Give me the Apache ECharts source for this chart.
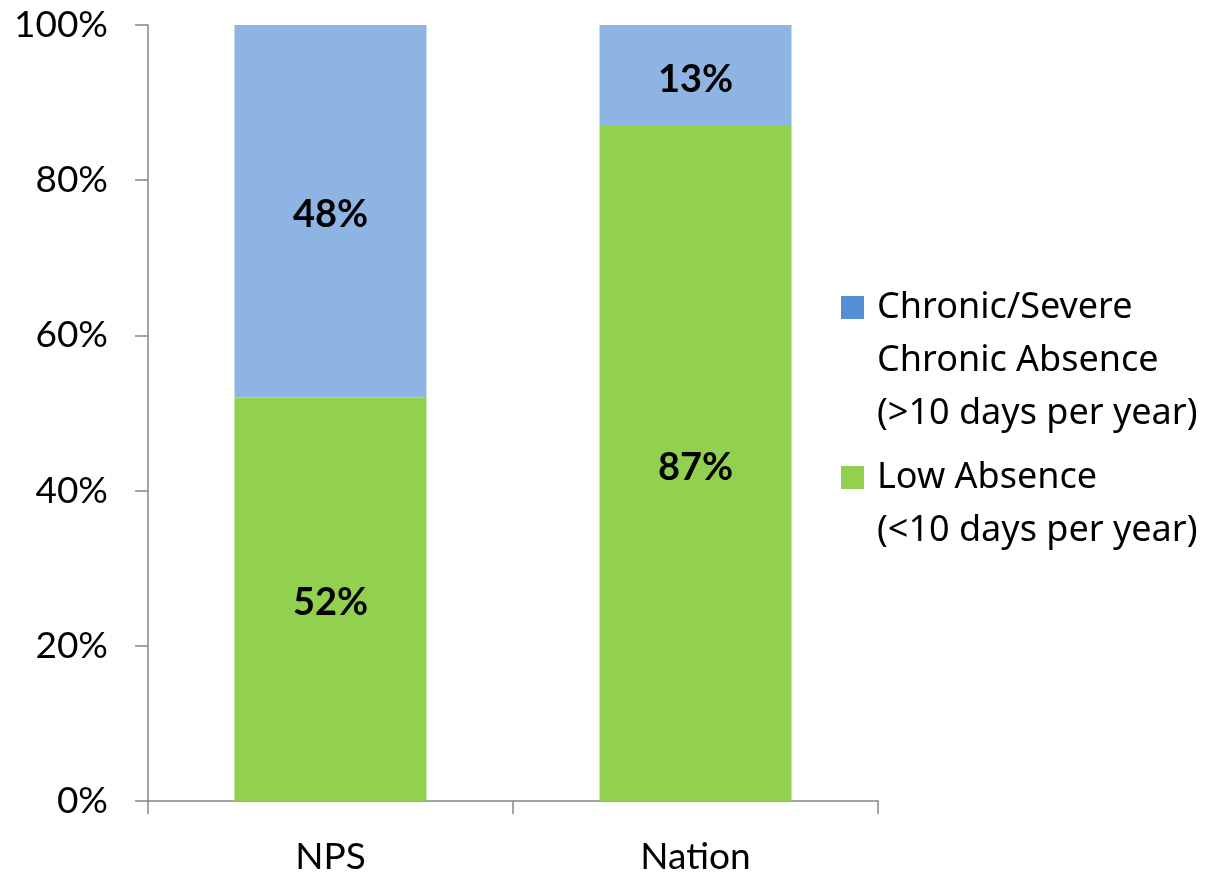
<!DOCTYPE html>
<html>
<head>
<meta charset="utf-8">
<script src="https://cdn.jsdelivr.net/npm/echarts@6/dist/echarts.min.js"></script>
<style>html,body{margin:0;padding:0;background:#fff}#c{width:1211px;height:872px}</style>
</head>
<body>
<div id="c"></div>
<script>
var categories = ['NPS', 'Nation'];
var lowAbsence = [52, 87];
var chronicAbsence = [48, 13];
var yTicks = [0, 20, 40, 60, 80, 100];
var seriesNames = ['Chronic/Severe\nChronic Absence\n(>10 days per year)', 'Low Absence\n(<10 days per year)'];

var FONT = 'Lato';
var LFONT = 'Noto Sans';
var chart = echarts.init(document.getElementById('c'));
var barColorBlue = '#8EB4E3', legendBlue = '#558ED5', green = '#92D050';
var labelStyle = {show: true, position: 'inside', offset: [0, 4], formatter: '{c}%', fontFamily: FONT, fontWeight: 'bold', fontSize: 38, color: '#000'};
// legend icon: a 23px square aligned with the first text line, inside a box as tall as the label
function iconFor(h) {
  return 'path://M0,15h23v23h-23z M0,0h31v0.01h-31z M0,' + h + 'h31v0.01h-31z';
}
chart.setOption({
  animation: false,
  grid: {left: 148, right: 333, top: 25, bottom: 71, outerBoundsMode: 'none', containLabel: false},
  legend: {
    orient: 'vertical', left: 836, top: 276, itemGap: 11,
    data: [
      {name: seriesNames[0], icon: iconFor(159)},
      {name: seriesNames[1], icon: iconFor(106)}
    ],
    itemWidth: 31, itemHeight: 159,
    textStyle: {fontFamily: LFONT, fontSize: 36, color: '#000', lineHeight: 53}
  },
  xAxis: {
    type: 'category', data: categories,
    axisLine: {lineStyle: {color: '#868686', width: 1.5}},
    axisTick: {show: true, length: 13, alignWithLabel: false, lineStyle: {color: '#868686', width: 1.5}},
    axisLabel: {fontFamily: FONT, fontSize: 37, color: '#000', margin: 38}
  },
  yAxis: {
    type: 'value', min: 0, max: 100, interval: 20,
    axisLine: {show: true, lineStyle: {color: '#868686', width: 1.5}},
    axisTick: {show: true, length: 13, lineStyle: {color: '#868686', width: 1.5}},
    splitLine: {show: false},
    axisLabel: {fontFamily: FONT, fontSize: 37, color: '#000', margin: 40,
      formatter: function (v) { return yTicks.indexOf(v) >= 0 ? v + '%' : ''; }}
  },
  series: [
    {name: seriesNames[1], type: 'bar', stack: 'a', barWidth: '52.6%', data: lowAbsence,
     itemStyle: {color: green}, label: labelStyle},
    {name: seriesNames[0], type: 'bar', stack: 'a', barWidth: '52.6%',
     data: chronicAbsence.map(function (v) { return {value: v, itemStyle: {color: barColorBlue}}; }),
     itemStyle: {color: legendBlue}, label: labelStyle}
  ]
});
</script>
</body>
</html>
